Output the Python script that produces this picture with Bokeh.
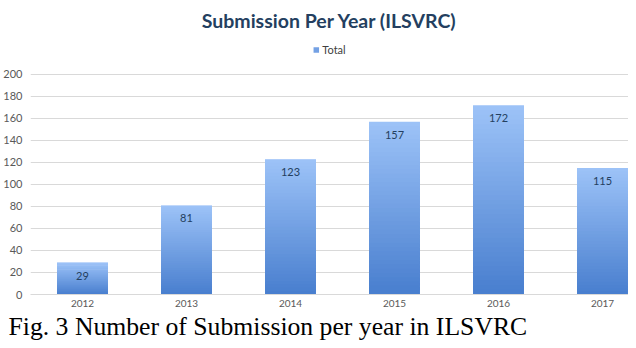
from bokeh.plotting import figure
from bokeh.models import (Range1d, FixedTicker, Legend, LegendItem, Title, ColumnDataSource)
from bokeh.core.properties import value
from bokeh.embed import file_html
from bokeh.resources import INLINE

years = ["2012", "2013", "2014", "2015", "2016", "2017"]
totals = [29, 81, 123, 157, 172, 115]
y_ticks = [0, 20, 40, 60, 80, 100, 120, 140, 160, 180, 200]

TOP_COLOR = (157, 195, 248)
BOTTOM_COLOR = (72, 126, 206)
N_SLICES = 40
BAR_W = 0.49

p = figure(frame_width=598, frame_height=256, output_backend="svg", toolbar_location=None,
           x_range=Range1d(-0.5, 5.25), y_range=Range1d(0, 232.7),
           min_border_left=22, min_border_right=0, min_border_top=37, min_border_bottom=0,
           background_fill_color="white", border_fill_color="white")
p.outline_line_color = None

# gradient bars built from data
left, right, bottom, top, colors = [], [], [], [], []
for i, v in enumerate(totals):
    step = v / N_SLICES
    for k in range(N_SLICES):
        b = step * k
        t = step * (k + 1)
        f = (k + 0.5) / N_SLICES
        c = tuple(int(round(BOTTOM_COLOR[j] + (TOP_COLOR[j] - BOTTOM_COLOR[j]) * f)) for j in range(3))
        left.append(i - BAR_W / 2)
        right.append(i + BAR_W / 2)
        bottom.append(b)
        top.append(t + step * 0.8 if k < N_SLICES - 1 else t)
        colors.append("#%02x%02x%02x" % c)
src = ColumnDataSource(dict(left=left, right=right, bottom=bottom, top=top, color=colors))
bars = p.quad(left="left", right="right", bottom="bottom", top="top", fill_color="color",
              line_color=None, source=src)

# value labels
lab = ColumnDataSource(dict(x=list(range(len(years))), y=totals, t=[str(v) for v in totals]))
p.text(x="x", y="y", text="t", source=lab, text_align="center", text_baseline="middle",
       y_offset=13, text_font=value("Lato"), text_font_size="11px", text_color="#243F60")

# legend
legend = Legend(items=[LegendItem(label="Total", renderers=[bars], index=N_SLICES // 2)],
                orientation="horizontal",
                location="top_center", border_line_color=None, background_fill_alpha=0,
                label_text_font="Lato", label_text_font_size="11px", label_text_color="#404040",
                glyph_width=7, glyph_height=7, label_standoff=3, padding=0, margin=5,
                label_height=10)
p.add_layout(legend)

# title
p.title.text = "Submission Per Year (ILSVRC)"
p.title.align = "center"
p.title.text_font = "Lato"
p.title.text_font_size = "19.5px"
p.title.text_font_style = "bold"
p.title.text_color = "#243F60"
p.title.standoff = 13
p.title.offset = 0

# axes
p.xaxis.ticker = FixedTicker(ticks=list(range(len(years))))
p.xaxis.major_label_overrides = {i: y for i, y in enumerate(years)}
p.xaxis.axis_line_color = "#D9D9D9"
p.xaxis.major_tick_line_color = None
p.xaxis.minor_tick_line_color = None
p.xaxis.major_tick_out = 0
p.xaxis.major_label_text_font = "Lato"
p.xaxis.major_label_text_font_size = "10px"
p.xaxis.major_label_text_color = "#595959"
p.xaxis.major_label_standoff = 5

p.yaxis.ticker = FixedTicker(ticks=y_ticks)
p.yaxis.axis_line_color = None
p.yaxis.major_tick_line_color = None
p.yaxis.minor_tick_line_color = None
p.yaxis.major_tick_out = 0
p.yaxis.major_label_text_font = "Lato"
p.yaxis.major_label_text_font_size = "11px"
p.yaxis.major_label_text_color = "#595959"
p.yaxis.major_label_standoff = 8

p.xgrid.grid_line_color = None
p.ygrid.grid_line_color = "#D9D9D9"
p.ygrid.grid_line_width = 1

# caption
cap = Title(text="Fig. 3 Number of Submission per year in ILSVRC", align="left",
            text_font="Liberation Serif", text_font_size="25.7px", text_font_style="normal",
            text_color="#000000", offset=-22, standoff=0)
p.add_layout(cap, "below")

open("out.html", "w").write(file_html(p, INLINE))
